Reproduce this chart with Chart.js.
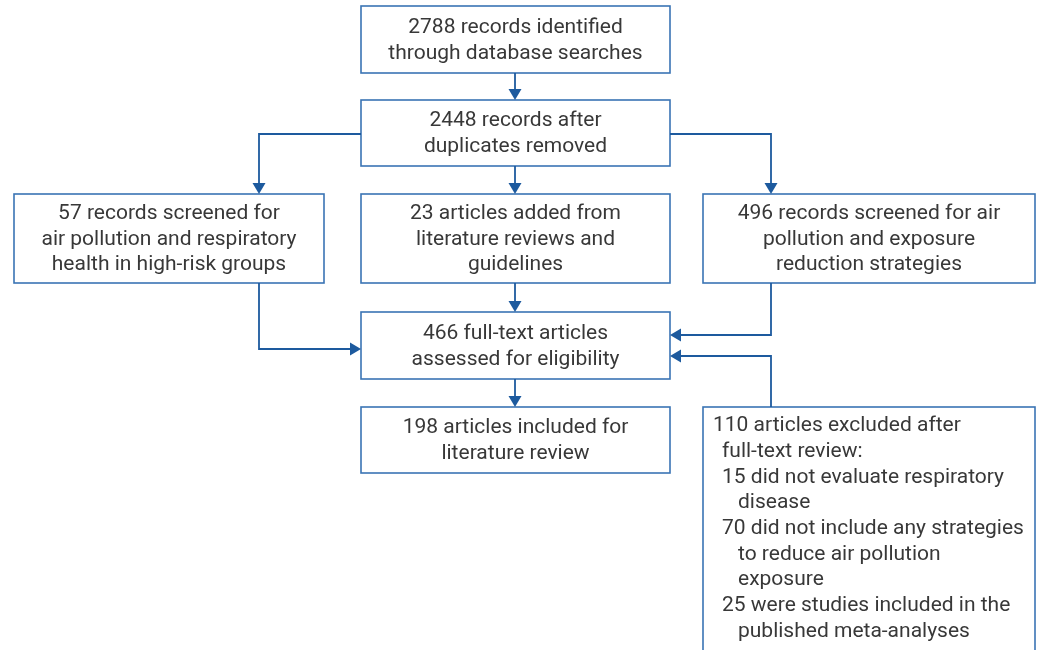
<!DOCTYPE html>
<html><head><meta charset="utf-8">
<script src="https://cdn.jsdelivr.net/npm/chart.js@4"></script>
<style>html,body{margin:0;padding:0;background:#fff}#wrap{width:1039px;height:650px}</style>
</head><body><div id="wrap"><canvas id="c" width="1039" height="650"></canvas></div>
<script>
// ---- flow content (text of each stage) ----
const stageIds = ['identified','deduped','highRisk','added','exposure','assessed','included','excluded'];
const stageCounts = [2788, 2448, 57, 23, 496, 466, 198, 110];
const stageLines = [
  ['2788 records identified','through database searches'],
  ['2448 records after','duplicates removed'],
  ['57 records screened for','air pollution and respiratory','health in high-risk groups'],
  ['23 articles added from','literature reviews and','guidelines'],
  ['496 records screened for air','pollution and exposure','reduction strategies'],
  ['466 full-text articles','assessed for eligibility'],
  ['198 articles included for','literature review'],
  ['110 articles excluded after',' full-text review:',' 15 did not evaluate respiratory','   disease',' 70 did not include any strategies','   to reduce air pollution','   exposure',' 25 were studies included in the','   published meta-analyses']
];
// ---- links between stages ----
const linkFrom = ['identified','deduped','deduped','deduped','highRisk','added','exposure','excluded','assessed'];
const linkTo   = ['deduped','highRisk','added','exposure','assessed','assessed','assessed','assessed','included'];

// ---- layout (separate from data) ----
const layout = {
  identified:{x0:361,x1:670,y0:6,y1:73},
  deduped:{x0:361,x1:670,y0:100,y1:166},
  highRisk:{x0:14,x1:324,y0:194,y1:283},
  added:{x0:361,x1:670,y0:194,y1:283},
  exposure:{x0:703,x1:1035,y0:194,y1:283},
  assessed:{x0:361,x1:670,y0:312,y1:379},
  included:{x0:361,x1:670,y0:407,y1:473},
  excluded:{x0:703,x1:1035,y0:407,y1:660,left:true}
};
const routes = [
  [[515,73],[515,100]],
  [[361,134],[259,134],[259,194]],
  [[515,166],[515,194]],
  [[670,134],[771,134],[771,194]],
  [[259,283],[259,349],[361,349]],
  [[515,283],[515,312]],
  [[771,283],[771,335],[670,335]],
  [[771,407],[771,356],[670,356]],
  [[515,379],[515,407]]
];
const BORDER='#3a74b4', ARROW='#1d5a9e', TEXT='#383838';
const FONT='21px "Roboto", sans-serif';
const LINE_H=25.7;

const flowPlugin = {
  id:'flow',
  afterDraw(chart){
    const ctx=chart.ctx, xs=chart.scales.x, ys=chart.scales.y;
    const X=v=>xs.getPixelForValue(v), Y=v=>ys.getPixelForValue(v);
    ctx.save();
    // boxes
    stageIds.forEach((id,i)=>{
      const b=layout[id];
      ctx.strokeStyle=BORDER; ctx.lineWidth=1.6;
      ctx.strokeRect(X(b.x0),Y(b.y0),X(b.x1)-X(b.x0),Y(b.y1)-Y(b.y0));
      const lines=stageLines[i];
      ctx.fillStyle=TEXT; ctx.font=FONT; ctx.textBaseline='middle';
      if(b.left){
        ctx.textAlign='left';
        lines.forEach((t,k)=>{
          const ind = t.startsWith('   ')?25:(t.startsWith(' ')?9:0);
          ctx.fillText(t.trim(), X(b.x0)+10+ind, Y(b.y0)+19+k*LINE_H);
        });
      } else {
        ctx.textAlign='center';
        const cy=(Y(b.y0)+Y(b.y1))/2, cx=(X(b.x0)+X(b.x1))/2;
        lines.forEach((t,k)=>{
          ctx.fillText(t, cx, cy+(k-(lines.length-1)/2)*LINE_H+1);
        });
      }
    });
    // arrows
    routes.forEach(r=>{
      const pts=r.map(p=>[X(p[0]),Y(p[1])]);
      ctx.strokeStyle=ARROW; ctx.lineWidth=1.8;
      const n=pts.length, [ax,ay]=pts[n-2], [bx,by]=pts[n-1];
      const len=Math.hypot(bx-ax,by-ay), ux=(bx-ax)/len, uy=(by-ay)/len;
      const hl=11, hw=6.5;
      ctx.beginPath(); ctx.moveTo(pts[0][0],pts[0][1]);
      for(let k=1;k<n-1;k++) ctx.lineTo(pts[k][0],pts[k][1]);
      ctx.lineTo(bx-ux*hl,by-uy*hl); ctx.stroke();
      ctx.fillStyle=ARROW; ctx.beginPath();
      ctx.moveTo(bx,by);
      ctx.lineTo(bx-ux*hl-uy*hw, by-uy*hl+ux*hw);
      ctx.lineTo(bx-ux*hl+uy*hw, by-uy*hl-ux*hw);
      ctx.closePath(); ctx.fill();
    });
    ctx.restore();
  }
};

new Chart(document.getElementById('c'),{
  type:'scatter',
  data:{datasets:[{label:'stages',data:stageIds.map((id,i)=>({x:(layout[id].x0+layout[id].x1)/2,y:(layout[id].y0+layout[id].y1)/2,n:stageCounts[i]})),pointRadius:0}]},
  options:{
    responsive:false, animation:false,
    layout:{padding:0},
    plugins:{legend:{display:false},tooltip:{enabled:false}},
    scales:{x:{type:'linear',min:0,max:1039,display:false},y:{type:'linear',min:0,max:650,reverse:true,display:false}}
  },
  plugins:[flowPlugin]
});
</script>
</body></html>
